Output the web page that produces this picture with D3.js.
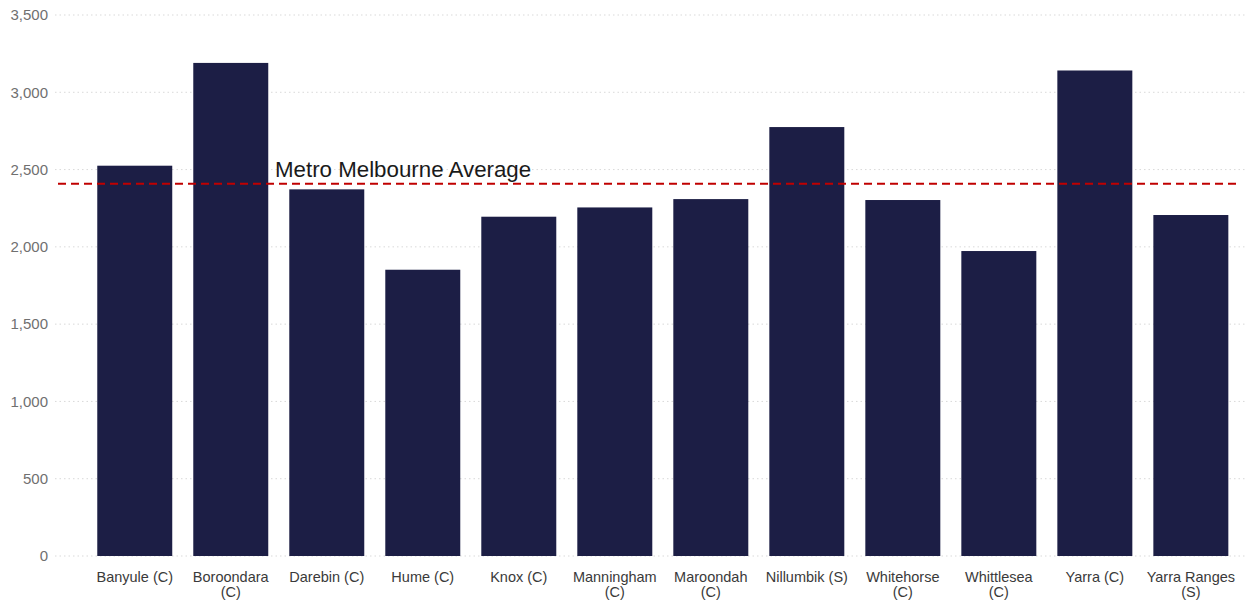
<!DOCTYPE html>
<html>
<head>
<meta charset="utf-8">
<script src="https://cdn.jsdelivr.net/npm/d3@7"></script>
<style>
  html, body { margin: 0; padding: 0; background: #fff; }
  svg { display: block; font-family: "Liberation Sans", Arial, sans-serif; }
</style>
</head>
<body>
<svg id="chart" width="1250" height="602"></svg>
<script>
// Councils and their values
const categories = [
  "Banyule (C)", "Boroondara (C)", "Darebin (C)", "Hume (C)", "Knox (C)",
  "Manningham (C)", "Maroondah (C)", "Nillumbik (S)", "Whitehorse (C)",
  "Whittlesea (C)", "Yarra (C)", "Yarra Ranges (S)"
];
const values = [2525, 3190, 2372, 1852, 2195, 2255, 2309, 2775, 2303, 1973, 3141, 2206];
const metroAverage = 2408;
const averageLabel = "Metro Melbourne Average";
const yTicks = [0, 500, 1000, 1500, 2000, 2500, 3000, 3500];

const svg = d3.select("#chart");

const y = d3.scaleLinear().domain([0, 3500]).range([556, 15]);
const x = d3.scaleBand()
  .domain(categories)
  .range([86.8, 1238.8])
  .paddingInner(0.219)
  .paddingOuter(0.109);

const gridLeft = 55, gridRight = 1245;

// Dotted horizontal gridlines
svg.append("g")
  .selectAll("line")
  .data(yTicks)
  .join("line")
  .attr("x1", gridLeft)
  .attr("x2", gridRight)
  .attr("y1", d => y(d))
  .attr("y2", d => y(d))
  .attr("stroke", "#d9d9d9")
  .attr("stroke-width", 1)
  .attr("stroke-dasharray", "1.5,3");

// Y axis labels
const yAxis = d3.axisLeft(y)
  .tickValues(yTicks)
  .tickFormat(d3.format(","))
  .tickSize(0)
  .tickPadding(0);
const gy = svg.append("g").attr("transform", "translate(48,0)").call(yAxis);
gy.select(".domain").remove();
gy.selectAll("text")
  .attr("fill", "#707070")
  .attr("font-size", "15px")
  .attr("font-family", "Liberation Sans, Arial, sans-serif");

// Bars
svg.append("g")
  .selectAll("rect")
  .data(categories.map((c, i) => ({ c, v: values[i] })))
  .join("rect")
  .attr("x", d => x(d.c))
  .attr("width", x.bandwidth())
  .attr("y", d => y(d.v))
  .attr("height", d => y(0) - y(d.v))
  .attr("fill", "#1c1e45");

// Category labels: the "(C)"/"(S)" suffix drops to a second line when too wide
function wrapSuffix(textSel, width) {
  textSel.each(function () {
    const text = d3.select(this);
    const full = text.text();
    const m = full.match(/^(.*)\s(\([^)]*\))$/);
    if (!m || this.getComputedTextLength() <= width) return;
    const xPos = text.attr("x");
    text.text(null);
    text.append("tspan").attr("x", xPos).attr("dy", 0).text(m[1]);
    text.append("tspan").attr("x", xPos).attr("dy", "15px").text(m[2]);
  });
}

svg.append("g")
  .selectAll("text")
  .data(categories)
  .join("text")
  .attr("x", d => x(d) + x.bandwidth() / 2)
  .attr("y", 582)
  .attr("text-anchor", "middle")
  .attr("font-size", "14.5px")
  .attr("fill", "#3a3a3a")
  .text(d => d)
  .call(wrapSuffix, 86);

// Metro average reference line
svg.append("line")
  .attr("x1", 58)
  .attr("x2", 1240)
  .attr("y1", y(metroAverage))
  .attr("y2", y(metroAverage))
  .attr("stroke", "#c00000")
  .attr("stroke-width", 2)
  .attr("stroke-dasharray", "8,5");

svg.append("text")
  .attr("x", 275)
  .attr("y", y(metroAverage) - 7)
  .attr("font-size", "22.3px")
  .attr("fill", "#1a1a1a")
  .text(averageLabel);
</script>
</body>
</html>
